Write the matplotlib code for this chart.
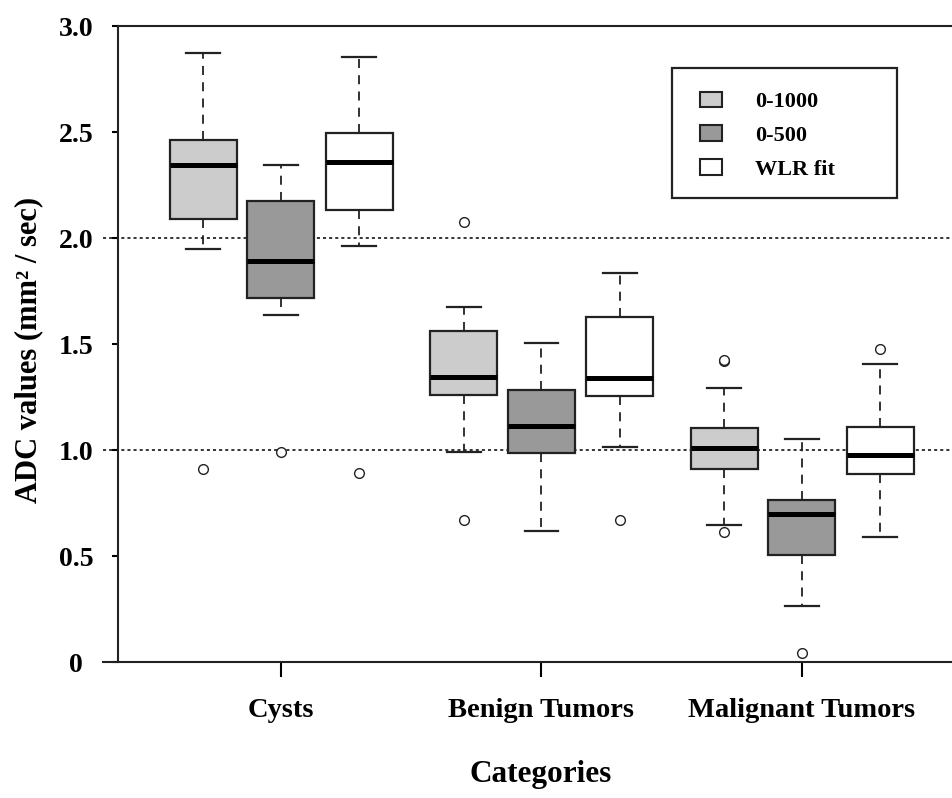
import matplotlib
matplotlib.use('Agg')
import matplotlib.pyplot as plt
from matplotlib.patches import Patch, Rectangle

plt.rcParams['font.family'] = ['Liberation Serif', 'DejaVu Serif']
plt.rcParams['font.weight'] = 'bold'

# Data
categories = ['Cysts', 'Benign Tumors', 'Malignant Tumors']
series = ['0-1000', '0-500', 'WLR fit']
colors = ['#cccccc', '#999999', '#ffffff']

# per series: one value per category
med = {
    '0-1000': [2.344, 1.346, 1.008],
    '0-500': [1.892, 1.113, 0.698],
    'WLR fit': [2.358, 1.338, 0.976],
}
q1 = {
    '0-1000': [2.090, 1.259, 0.912],
    '0-500': [1.717, 0.984, 0.503],
    'WLR fit': [2.132, 1.255, 0.887],
}
q3 = {
    '0-1000': [2.462, 1.563, 1.102],
    '0-500': [2.175, 1.283, 0.764],
    'WLR fit': [2.495, 1.629, 1.110],
}
whislo = {
    '0-1000': [1.948, 0.992, 0.648],
    '0-500': [1.637, 0.620, 0.264],
    'WLR fit': [1.962, 1.016, 0.591],
}
whishi = {
    '0-1000': [2.873, 1.676, 1.291],
    '0-500': [2.344, 1.506, 1.050],
    'WLR fit': [2.854, 1.833, 1.404],
}
fliers = {
    '0-1000': [[0.910], [2.075, 0.670], [1.418, 1.426, 0.615]],
    '0-500': [[0.990], [], [0.041]],
    'WLR fit': [[0.890], [0.670], [1.475]],
}

yticks = [0, 0.5, 1.0, 1.5, 2.0, 2.5, 3.0]
ytick_labels = ['0', '0.5', '1.0', '1.5', '2.0', '2.5', '3.0']

fig = plt.figure(figsize=(9.52, 7.98), dpi=100)
ax = fig.add_axes([103 / 952, 136 / 798, 849 / 952, 636 / 798])

offsets = [-0.298, 0.0, 0.300]
for s, name in enumerate(series):
    stats = []
    for c in range(len(categories)):
        stats.append({
            'med': med[name][c], 'q1': q1[name][c], 'q3': q3[name][c],
            'whislo': whislo[name][c], 'whishi': whishi[name][c],
            'fliers': fliers[name][c],
        })
    pos = [c + 1 + offsets[s] for c in range(len(categories))]
    ax.bxp(stats, positions=pos, widths=0.257, capwidths=0.13,
           patch_artist=True, manage_ticks=False,
           boxprops=dict(facecolor=colors[s], edgecolor='#222222', linewidth=1.6),
           medianprops=dict(color='black', linewidth=3.6, solid_capstyle='butt'),
           whiskerprops=dict(color='#222222', linewidth=1.3, linestyle=(0, (5, 4))),
           capprops=dict(color='#222222', linewidth=1.6),
           flierprops=dict(marker='o', markersize=7, markerfacecolor='white',
                           markeredgecolor='#222222', markeredgewidth=1.0))

for y in [1.0, 2.0]:
    ax.axhline(y, color='black', linewidth=1.1, linestyle=(0, (2, 2)), zorder=0)

ax.set_xlim(0.317, 3.576)
ax.set_ylim(0, 3.0)

ax.spines['right'].set_visible(False)
ax.spines['left'].set_position(('data', 0.374))
ax.spines['top'].set_bounds(0.374, 3.576)
for sp in ['left', 'top', 'bottom']:
    ax.spines[sp].set_linewidth(1.5)
    ax.spines[sp].set_color('#222222')

ax.set_xticks([1, 2, 3])
ax.set_xticklabels(categories, fontsize=20.5, fontweight='bold')
ax.tick_params(axis='x', direction='out', length=11, width=1.5, pad=15)

ax.set_yticks(yticks)
ax.set_yticklabels(ytick_labels, fontsize=20, fontweight='bold')
ax.tick_params(axis='y', direction='out', length=4, width=1.5, pad=26)
for lbl in ax.get_yticklabels():
    lbl.set_ha('center')

ax.set_xlabel('Categories', fontsize=22.5, fontweight='bold')
ax.xaxis.set_label_coords(0.515, -0.177)
ax.xaxis.label.set_va('center')
ax.set_ylabel('ADC values (mm² / sec)', fontsize=22, fontweight='bold')
ax.yaxis.set_label_coords(-0.088, 0.49)
ax.yaxis.label.set_va('center')

# legend frame drawn separately so the padding matches
frame = Rectangle((0.670, 0.730), 0.265, 0.204, transform=ax.transAxes,
                  facecolor='white', edgecolor='#222222', linewidth=1.6, zorder=4)
ax.add_patch(frame)
handles = [Patch(facecolor=colors[i], edgecolor='#222222', linewidth=1.5, label=series[i])
           for i in range(len(series))]
leg = ax.legend(handles=handles, loc='upper left', bbox_to_anchor=(0.703, 0.897),
                borderaxespad=0, borderpad=0, frameon=False,
                prop={'family': 'Liberation Serif', 'weight': 'bold', 'size': 16},
                labelspacing=0.6, handlelength=1.0, handleheight=0.7,
                handletextpad=1.5)
leg.set_zorder(5)

fig.savefig('out.png', dpi=100)
